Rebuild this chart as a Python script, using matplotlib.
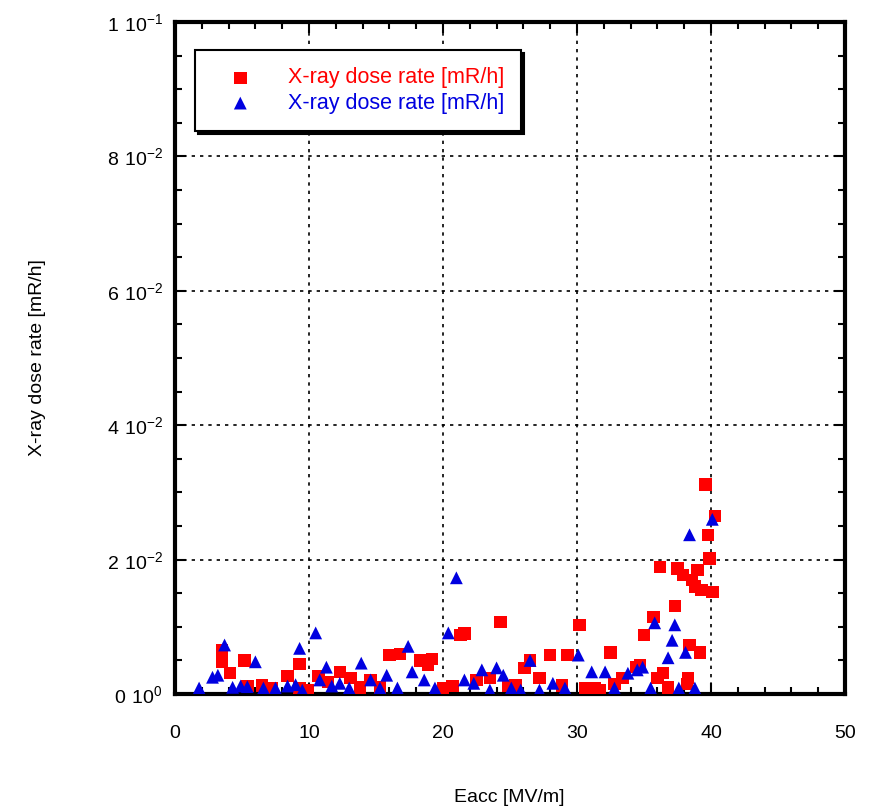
"""X-ray dose rate versus accelerating gradient, two measurement series."""
import matplotlib
matplotlib.use("Agg")
import matplotlib.pyplot as plt
from matplotlib.ticker import MultipleLocator, FixedLocator, FixedFormatter

# series 1 (red squares): Eacc [MV/m], dose rate [mR/h]
red_x = [3.5, 3.5, 4.1, 5.2, 5.4, 6.5, 7.2, 8.4, 9.3, 9.3, 9.9, 10.7, 11.4,
         12.3, 13.1, 13.8, 14.6, 15.3, 16.0, 16.8, 18.3, 18.9, 19.2, 20.0,
         20.7, 21.3, 21.6, 22.5, 23.5, 24.3, 24.9, 25.4, 26.1, 26.5, 27.2,
         28.0, 28.9, 29.3, 30.2, 30.6, 31.3, 31.7, 32.5, 32.8, 33.4, 34.4,
         34.7, 35.0, 35.7, 36.0, 36.2, 36.4, 36.8, 37.3, 37.5, 37.9, 38.2,
         38.3, 38.4, 38.6, 38.8, 39.0, 39.2, 39.3, 39.6, 39.8, 39.9, 40.1,
         40.3]
red_y = [0.0065, 0.0048, 0.0031, 0.0050, 0.0012, 0.0013, 0.0009, 0.0027,
         0.0009, 0.0045, 0.0006, 0.0027, 0.0018, 0.0033, 0.0024, 0.0010,
         0.0021, 0.0010, 0.0058, 0.0060, 0.0050, 0.0043, 0.0052, 0.0009,
         0.0012, 0.0088, 0.0090, 0.0021, 0.0024, 0.0107, 0.0012, 0.0013,
         0.0039, 0.0050, 0.0024, 0.0058, 0.0013, 0.0058, 0.0103, 0.0009,
         0.0009, 0.0006, 0.0062, 0.0015, 0.0024, 0.0040, 0.0043, 0.0088,
         0.0115, 0.0024, 0.0189, 0.0031, 0.0010, 0.0131, 0.0187, 0.0177,
         0.0015, 0.0024, 0.0073, 0.0170, 0.0160, 0.0185, 0.0062, 0.0155,
         0.0312, 0.0237, 0.0202, 0.0152, 0.0265]

# series 2 (blue triangles)
blue_x = [1.8, 2.8, 3.2, 3.7, 4.3, 4.9, 5.4, 6.0, 6.6, 7.5, 8.4, 9.0, 9.3,
          9.5, 10.5, 10.8, 11.3, 11.7, 12.3, 13.0, 13.9, 14.6, 15.3, 15.8,
          16.6, 17.4, 17.7, 18.6, 19.4, 20.4, 21.0, 21.6, 22.3, 22.9, 23.5,
          24.0, 24.5, 25.1, 25.8, 26.5, 27.2, 28.2, 29.1, 30.1, 31.1, 32.1,
          32.8, 33.8, 34.5, 34.9, 35.5, 35.8, 36.8, 37.1, 37.3, 37.6, 38.1,
          38.4, 38.8, 40.1]
blue_y = [0.0009, 0.0025, 0.0028, 0.0073, 0.0010, 0.0012, 0.0011, 0.0048,
          0.0009, 0.0009, 0.0012, 0.0014, 0.0068, 0.0006, 0.0091, 0.0021,
          0.0040, 0.0012, 0.0016, 0.0009, 0.0046, 0.0021, 0.0009, 0.0028,
          0.0009, 0.0071, 0.0033, 0.0021, 0.0009, 0.0091, 0.0173, 0.0021,
          0.0016, 0.0036, 0.0006, 0.0039, 0.0028, 0.0009, 0.0006, 0.0050,
          0.0006, 0.0016, 0.0009, 0.0058, 0.0033, 0.0033, 0.0009, 0.0031,
          0.0036, 0.0040, 0.0009, 0.0106, 0.0054, 0.0080, 0.0103, 0.0009,
          0.0062, 0.0237, 0.0009, 0.0260]

series_label = "X-ray dose rate [mR/h]"
x_label = "Eacc [MV/m]"
y_ticks = [0.0, 0.02, 0.04, 0.06, 0.08, 0.1]
y_tick_labels = [r"$\mathregular{0\ 10^{0}}$", r"$\mathregular{2\ 10^{-2}}$",
                 r"$\mathregular{4\ 10^{-2}}$", r"$\mathregular{6\ 10^{-2}}$",
                 r"$\mathregular{8\ 10^{-2}}$", r"$\mathregular{1\ 10^{-1}}$"]

plt.rcParams["font.family"] = ["Liberation Sans", "DejaVu Sans"]
plt.rcParams["mathtext.fontset"] = "custom"
plt.rcParams["mathtext.rm"] = "Liberation Sans"

fig = plt.figure(figsize=(8.71, 8.08), dpi=100)
ax = fig.add_axes([0.2009, 0.141, 0.7692, 0.8318])

ax.scatter(red_x, red_y, marker="s", s=80, color="#ff0000", edgecolors="none",
           label=series_label, zorder=3)
ax.scatter(blue_x, blue_y, marker="^", s=85, color="#0000e0", edgecolors="none",
           label=series_label, zorder=4)

ax.set_xlim(0, 50)
ax.set_ylim(0, 0.1)
ax.xaxis.set_major_locator(MultipleLocator(10))
ax.xaxis.set_minor_locator(MultipleLocator(2))
ax.yaxis.set_major_locator(FixedLocator(y_ticks))
ax.yaxis.set_major_formatter(FixedFormatter(y_tick_labels))
ax.yaxis.set_minor_locator(MultipleLocator(0.005))
ax.tick_params(which="both", direction="in", top=True, right=True,
               labelsize=14, width=1.5)
ax.tick_params(which="major", length=8)
ax.tick_params(axis="y", which="major", pad=9)
ax.tick_params(axis="x", which="major", pad=22)
ax.tick_params(which="minor", length=5)
for s in ax.spines.values():
    s.set_linewidth(3)
ax.grid(True, which="major", linestyle=(0, (2, 3)), color="black", linewidth=1.2)

fig.text(509 / 871, 1 - 797 / 808, x_label, fontsize=14, ha="center", va="center")
fig.text(38 / 871, 1 - 358 / 808, series_label, fontsize=14, ha="center",
         va="center", rotation=90)

leg = ax.legend(loc="upper left", bbox_to_anchor=(0.03, 0.958),
                borderaxespad=0, frameon=True, fancybox=False, edgecolor="black",
                shadow={"color": "black", "alpha": 1.0},
                handletextpad=0.9, borderpad=0.8, labelspacing=0.2,
                handlelength=2.6, prop={"family": "Liberation Sans", "size": 15.5})
leg.get_frame().set_linewidth(1.5)
for txt, col in zip(leg.get_texts(), ["#ff0000", "#0000e0"]):
    txt.set_color(col)

fig.savefig("out.png", dpi=100, facecolor="white")
